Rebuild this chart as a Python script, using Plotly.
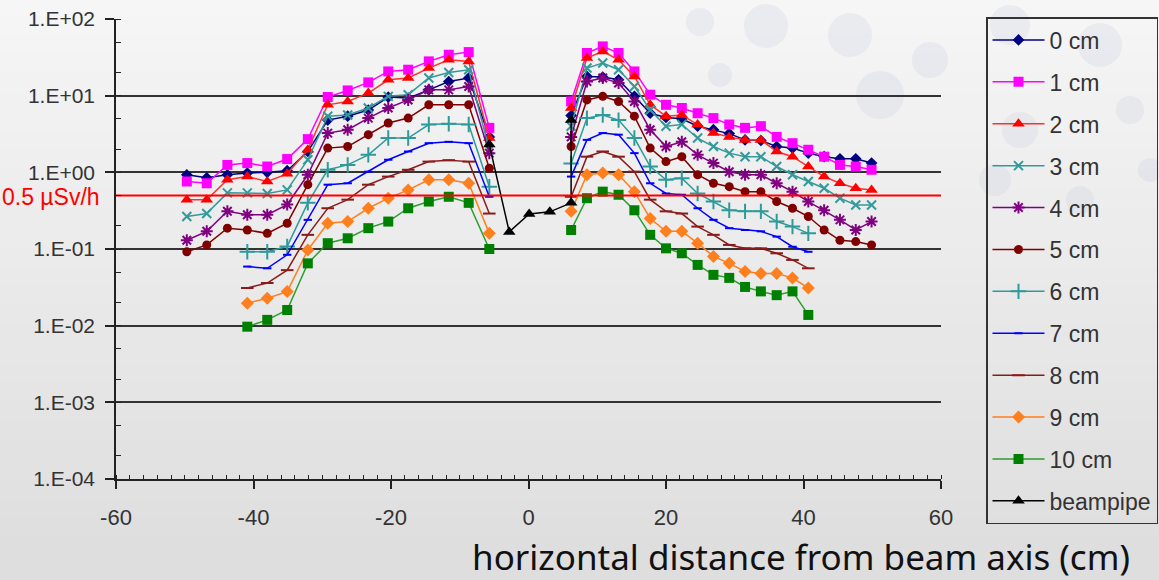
import numpy as np
import plotly.graph_objects as go

# ---------------- data ----------------
x_left = [-49.7, -46.8, -43.8, -40.9, -38.0, -35.1, -32.1, -29.2, -26.3, -23.3,
          -20.4, -17.5, -14.5, -11.6, -8.7, -5.7]
x_right = [6.2, 8.5, 10.8, 13.1, 15.4, 17.7, 20.0, 22.3, 24.6, 26.9,
           29.2, 31.5, 33.8, 36.1, 38.4, 40.7, 43.0, 45.3, 47.6, 49.9]

# series 0-5 cm cover the full x range; 6-10 cm cover x_left[3:] and x_right[:16]
cm0_left = [0.93, 0.85, 0.93, 0.98, 1.0, 1.05, 1.87, 4.8, 5.4, 6.5, 9.6, 9.3, 11.9, 15.3, 17.0, 2.9]
cm0_right = [5.5, 17.8, 17.5, 16.1, 9.8, 5.9, 5.2, 5.0, 4.0, 3.6, 3.2, 2.65, 2.6, 2.17, 2.07, 1.78, 1.6, 1.5, 1.5, 1.32]
cm1_left = [0.76, 0.72, 1.25, 1.32, 1.19, 1.49, 2.71, 9.6, 11.7, 14.9, 20.7, 21.8, 28.0, 34.2, 37.0, 3.8]
cm1_right = [8.4, 36.0, 43.9, 36.0, 20.7, 10.3, 7.6, 6.9, 5.9, 5.1, 4.2, 3.8, 4.0, 2.9, 2.4, 1.97, 1.6, 1.25, 1.19, 1.08]
cm2_left = [0.44, 0.44, 0.80, 0.88, 0.76, 0.955, 1.97, 7.6, 8.4, 10.8, 16.1, 17.0, 22.9, 29.4, 28.0, 2.8]
cm2_right = [6.9, 31.0, 37.8, 29.4, 17.8, 7.6, 5.4, 5.6, 4.2, 3.25, 2.9, 2.65, 2.65, 1.87, 1.6, 1.19, 0.88, 0.72, 0.62, 0.59]
cm3_left = [0.265, 0.29, 0.54, 0.54, 0.53, 0.59, 1.46, 5.4, 5.6, 6.9, 9.8, 10.3, 17.0, 20.1, 21.8, 1.97]
cm3_right = [4.0, 22.9, 26.7, 21.8, 13.2, 6.5, 4.0, 4.2, 2.8, 2.17, 1.78, 1.6, 1.6, 1.19, 0.93, 0.76, 0.62, 0.46, 0.375, 0.375]
cm4_left = [0.13, 0.17, 0.31, 0.28, 0.28, 0.38, 0.93, 3.25, 3.6, 5.1, 6.9, 8.8, 11.9, 11.9, 13.2, 1.78]
cm4_right = [2.9, 15.3, 17.0, 14.6, 8.4, 3.6, 2.17, 2.5, 1.69, 1.32, 1.02, 0.93, 0.93, 0.72, 0.56, 0.416, 0.32, 0.24, 0.177, 0.228]
cm5_left = [0.092, 0.113, 0.187, 0.177, 0.16, 0.217, 0.69, 2.07, 2.17, 3.1, 4.4, 5.1, 7.6, 7.6, 7.6, 1.13]
cm5_right = [2.17, 8.8, 9.8, 8.4, 5.4, 2.07, 1.38, 1.6, 0.93, 0.72, 0.65, 0.56, 0.56, 0.416, 0.34, 0.265, 0.177, 0.13, 0.125, 0.113]
cm6_left = [0.092, 0.092, 0.108, 0.40, 1.08, 1.25, 1.69, 2.8, 2.8, 4.2, 4.3, 4.2, 0.65]
cm6_right = [1.3, 5.1, 5.6, 4.8, 2.8, 1.19, 0.80, 0.84, 0.53, 0.416, 0.32, 0.31, 0.31, 0.228, 0.196, 0.16]
cm7_left = [0.059, 0.056, 0.084, 0.24, 0.69, 0.72, 1.02, 1.46, 1.87, 2.4, 2.5, 2.4, 0.48]
cm7_right = [0.88, 2.65, 3.25, 3.1, 1.78, 0.72, 0.53, 0.51, 0.34, 0.24, 0.187, 0.177, 0.17, 0.145, 0.107, 0.092]
cm8_left = [0.031, 0.036, 0.053, 0.153, 0.34, 0.44, 0.69, 0.88, 1.08, 1.38, 1.44, 1.38, 0.29]
cm8_right = [0.48, 1.6, 1.87, 1.6, 1.02, 0.44, 0.31, 0.29, 0.196, 0.153, 0.113, 0.102, 0.102, 0.088, 0.072, 0.056]
cm9_left = [0.0196, 0.0228, 0.0278, 0.097, 0.217, 0.228, 0.34, 0.46, 0.59, 0.80, 0.80, 0.72, 0.16]
cm9_right = [0.31, 0.93, 0.98, 0.93, 0.56, 0.25, 0.17, 0.17, 0.119, 0.08, 0.065, 0.051, 0.048, 0.048, 0.042, 0.031]
cm10_left = [0.0097, 0.0119, 0.016, 0.065, 0.119, 0.138, 0.187, 0.228, 0.34, 0.416, 0.48, 0.40, 0.10]
cm10_right = [0.177, 0.46, 0.56, 0.51, 0.32, 0.153, 0.102, 0.088, 0.062, 0.046, 0.042, 0.032, 0.028, 0.025, 0.028, 0.0138]

beampipe_x = [-5.7, -2.8, 0.1, 3.1, 6.2, 6.2]
beampipe_y = [2.3, 0.167, 0.287, 0.305, 0.40, 4.8]

threshold = 0.5
threshold_label = "0.5 \u00b5Sv/h"

series_names = ["0 cm", "1 cm", "2 cm", "3 cm", "4 cm", "5 cm", "6 cm",
                "7 cm", "8 cm", "9 cm", "10 cm"]
y_tickvals = [1e-4, 1e-3, 1e-2, 1e-1, 1e0, 1e1, 1e2]
y_ticktext = ["1.E-04", "1.E-03", "1.E-02", "1.E-01", "1.E+00", "1.E+01", "1.E+02"]
x_tickvals = [-60, -40, -20, 0, 20, 40, 60]
x_ticktext = ["-60", "-40", "-20", "0", "20", "40", "60"]
x_title = "horizontal distance from beam axis (cm)"

# ---------------- styles ----------------
styles = [
    dict(color="#000080", line="#000080", symbol="diamond", size=9),
    dict(color="#FF00FF", line="#FF00FF", symbol="square", size=10),
    dict(color="#FF0000", line="#FF3030", symbol="triangle-up", size=11),
    dict(color="#339999", line="#339999", symbol="x-thin-open", size=9),
    dict(color="#800080", line="#800080", symbol="asterisk-open", size=10),
    dict(color="#800000", line="#800000", symbol="circle", size=9),
    dict(color="#2E9A9A", line="#2E9A9A", symbol="cross-thin-open", size=11),
    dict(color="#0000FF", line="#0000FF", symbol="line-ew-open", size=6),
    dict(color="#8B1A1A", line="#8B1A1A", symbol="line-ew-open", size=9),
    dict(color="#FF7F1E", line="#FF7F1E", symbol="diamond", size=10),
    dict(color="#008000", line="#2E9E2E", symbol="square", size=10),
]

lefts = [cm0_left, cm1_left, cm2_left, cm3_left, cm4_left, cm5_left, cm6_left,
         cm7_left, cm8_left, cm9_left, cm10_left]
rights = [cm0_right, cm1_right, cm2_right, cm3_right, cm4_right, cm5_right, cm6_right,
          cm7_right, cm8_right, cm9_right, cm10_right]

fig = go.Figure()

for i, name in enumerate(series_names):
    yl, yr = lefts[i], rights[i]
    xl = x_left[len(x_left) - len(yl):]
    xr = x_right[:len(yr)]
    st = styles[i]
    mk = dict(symbol=st["symbol"], size=st["size"], color=st["color"])
    if st["symbol"].endswith("open"):
        mk["line"] = dict(color=st["color"], width=2)
    else:
        mk["line"] = dict(width=0)
    fig.add_trace(go.Scatter(
        x=xl + [None] + xr, y=yl + [None] + yr, name=name, mode="lines+markers",
        connectgaps=False, legendgroup=name,
        line=dict(color=st["line"], width=1.5), marker=mk))

fig.add_trace(go.Scatter(
    x=beampipe_x, y=beampipe_y, name="beampipe", mode="lines+markers",
    legendgroup="beampipe",
    line=dict(color="#000000", width=1.5),
    marker=dict(symbol="triangle-up", size=11, color="#000000")))

# threshold line
fig.add_trace(go.Scatter(
    x=[-60, 60], y=[threshold, threshold], mode="lines", showlegend=False,
    line=dict(color="#FF0000", width=2), hoverinfo="skip", cliponaxis=False))

# background gradient bands
shapes = []
nb = 30
for k in range(nb):
    t = k / (nb - 1)
    c = int(246 - t * 24)
    shapes.append(dict(type="rect", xref="paper", yref="paper",
                       x0=-0.2, x1=1.4,
                       y0=1 + 19 / 460 - (k + 1) * (580 / 460) / nb - 0.01,
                       y1=1 + 19 / 460 - k * (580 / 460) / nb + 0.01,
                       fillcolor=f"rgb({c},{c},{c + 1})", line=dict(width=0),
                       layer="below"))
# faint decorative circles
circles = [(700, 22, 14), (766, 26, 22), (850, 35, 22), (720, 75, 12), (880, 95, 24),
           (930, 60, 18), (1010, 25, 20), (1100, 45, 22), (1020, 130, 18),
           (1130, 110, 14), (995, 180, 16), (1080, 200, 14), (1150, 170, 12)]
for (cx, cy, r) in circles:
    shapes.append(dict(type="circle", xref="paper", yref="paper",
                       x0=(cx - r - 116) / 825, x1=(cx + r - 116) / 825,
                       y0=(479 - cy - r) / 460, y1=(479 - cy + r) / 460,
                       fillcolor="rgba(205,210,222,0.28)", line=dict(width=0),
                       layer="below"))

fig.update_layout(
    width=1159, height=580,
    margin=dict(l=116, r=218, t=19, b=101, autoexpand=False),
    paper_bgcolor="#eeeeee", plot_bgcolor="rgba(0,0,0,0)",
    font=dict(family="Liberation Sans, Arial, sans-serif", size=19, color="#333333"),
    shapes=shapes,
    showlegend=True,
    legend=dict(x=(986 - 116) / 825, y=(479 - 17) / 460, xanchor="left", yanchor="top",
                bgcolor="rgba(0,0,0,0)", bordercolor="#333333", borderwidth=1.5,
                font=dict(size=23, color="#333333"), tracegroupgap=9,
                itemwidth=52, traceorder="grouped", maxheight=560),
    xaxis=dict(range=[-60, 60], tickvals=x_tickvals, ticktext=x_ticktext,
               ticks="outside", ticklen=8, ticklabelstandoff=10,
               tickwidth=1.5, tickcolor="#222222", showline=True, linecolor="#222222",
               linewidth=1.5, showgrid=False, zeroline=False,
               tickfont=dict(size=22, color="#333333"),
               minor=dict(ticks="inside", dtick=2, ticklen=4, tickcolor="#222222",
                          tickwidth=1, showgrid=False)),
    yaxis=dict(type="log", range=[-4, 2], tickvals=y_tickvals, ticktext=y_ticktext,
               ticks="outside", ticklen=9, tickwidth=1.5, tickcolor="#222222",
               ticklabelstandoff=6,
               showline=True, linecolor="#222222", linewidth=1.5,
               showgrid=True, gridcolor="#333333", gridwidth=2, zeroline=False,
               tickfont=dict(size=21, color="#333333"),
               minor=dict(ticks="inside", ticklen=5, tickcolor="#222222",
                          tickwidth=1, showgrid=False)),
    annotations=[
        dict(text=threshold_label, xref="paper", yref="y", x=-116 / 825,
             y=np.log10(threshold) - 0.02, xanchor="left", yanchor="middle",
             showarrow=False,
             font=dict(size=23, color="#FF0000",
                       family="Liberation Sans, Arial, sans-serif")),
        dict(text=x_title, xref="paper", yref="paper", x=(470 - 116) / 825,
             y=(479 - 556) / 460, xanchor="left", yanchor="middle", showarrow=False,
             font=dict(size=35, color="#111111",
                       family="Comic Sans MS, Noto Sans, DejaVu Sans, sans-serif")),
    ],
)

fig.write_html("out.html", post_script="document.body.style.margin='0';",
               config={"displayModeBar": False})
